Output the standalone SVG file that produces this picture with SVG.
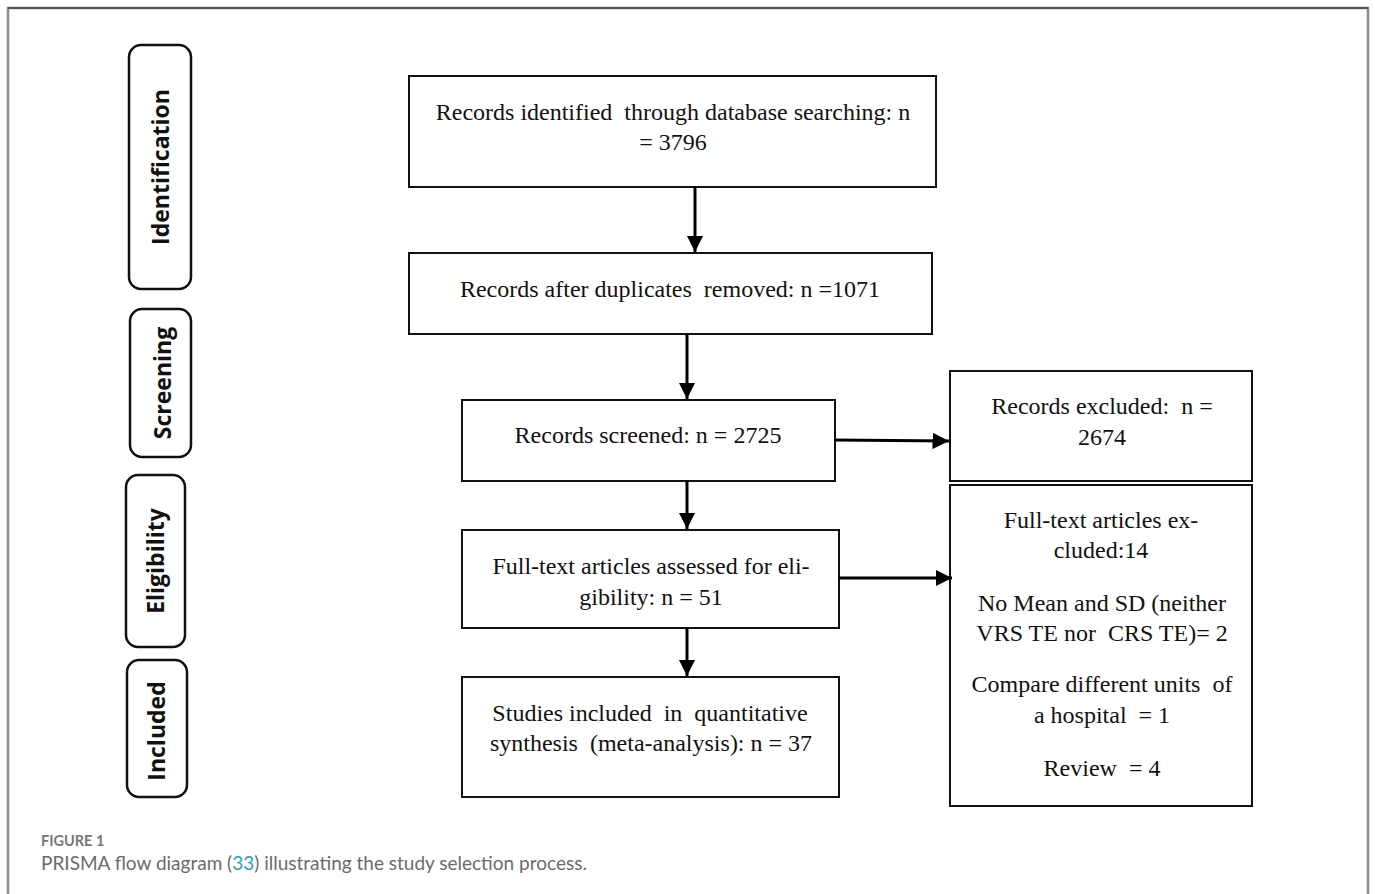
<svg xmlns="http://www.w3.org/2000/svg" width="1375" height="894" viewBox="0 0 1375 894">
<style>
.box{fill:#fff;stroke:#111;stroke-width:2}
.stage{fill:#fff;stroke:#111;stroke-width:2.5}
.t{font-family:"Liberation Serif","Times New Roman",serif;font-size:24px;fill:#111;text-anchor:middle;white-space:pre}
.s{font-family:"Open Sans","Liberation Sans",sans-serif;font-weight:bold;font-size:23px;fill:#111;text-anchor:middle}
.c{stroke:#000;stroke-width:3;fill:none}
</style>
<defs>
<marker id="ah" viewBox="0 0 10 10" refX="10" refY="5" markerWidth="5.5" markerHeight="5.5" markerUnits="strokeWidth" orient="auto">
<path d="M0,0 L10,5 L0,10 z" fill="#000"/>
</marker>
</defs>
<rect x="0" y="0" width="1375" height="894" fill="#fff"/>
<path d="M8,900 V8 H1368 V900" fill="none" stroke="#8a8a8a" stroke-width="2.5"/>
<line x1="8" y1="8" x2="1368" y2="8" stroke="#555" stroke-width="2"/>

<g id="stage-identification"><rect class="stage" x="129" y="45" width="62" height="244" rx="12"/><text class="s" transform="translate(169,167) rotate(-90)">Identification</text></g>
<g id="stage-screening"><rect class="stage" x="130" y="309" width="61" height="148" rx="12"/><text class="s" transform="translate(171,383) rotate(-90)">Screening</text></g>
<g id="stage-eligibility"><rect class="stage" x="126" y="475" width="59" height="172" rx="12"/><text class="s" transform="translate(164,561) rotate(-90)">Eligibility</text></g>
<g id="stage-included"><rect class="stage" x="127" y="660" width="60" height="137" rx="12"/><text class="s" transform="translate(165,731) rotate(-90)">Included</text></g>

<g id="n-identified" xml:space="preserve"><rect class="box" x="409" y="76" width="527" height="111"/><text class="t" x="673" y="120">Records identified  through database searching: n</text><text class="t" x="673" y="150">= 3796</text></g>
<g id="n-duplicates" xml:space="preserve"><rect class="box" x="409" y="253" width="523" height="81"/><text class="t" x="670" y="297">Records after duplicates  removed: n =1071</text></g>
<g id="n-screened" xml:space="preserve"><rect class="box" x="462" y="400" width="373" height="81"/><text class="t" x="648" y="443">Records screened: n = 2725</text></g>
<g id="n-excluded" xml:space="preserve"><rect class="box" x="950" y="371" width="302" height="110"/><text class="t" x="1102" y="414">Records excluded:  n =</text><text class="t" x="1102" y="445">2674</text></g>
<g id="n-fulltext" xml:space="preserve"><rect class="box" x="462" y="530" width="377" height="98"/><text class="t" x="651" y="574">Full-text articles assessed for eli-</text><text class="t" x="651" y="605">gibility: n = 51</text></g>
<g id="n-ftexcluded" xml:space="preserve"><rect class="box" x="950" y="485" width="302" height="321"/><text class="t" x="1101" y="528">Full-text articles ex-</text><text class="t" x="1101" y="558">cluded:14</text><text class="t" x="1102" y="611">No Mean and SD (neither</text><text class="t" x="1102" y="641">VRS TE nor  CRS TE)= 2</text><text class="t" x="1102" y="692">Compare different units  of</text><text class="t" x="1102" y="723">a hospital  = 1</text><text class="t" x="1102" y="776">Review  = 4</text></g>
<g id="n-included" xml:space="preserve"><rect class="box" x="462" y="677" width="377" height="120"/><text class="t" x="650" y="721">Studies included  in  quantitative</text><text class="t" x="651" y="751">synthesis  (meta-analysis): n = 37</text></g>

<g id="connectors">
<line class="c" x1="695" y1="187" x2="695" y2="252" marker-end="url(#ah)"/>
<line class="c" x1="687" y1="334" x2="687" y2="399" marker-end="url(#ah)"/>
<line class="c" x1="835" y1="440" x2="949" y2="441" marker-end="url(#ah)"/>
<line class="c" x1="687" y1="481" x2="687" y2="529" marker-end="url(#ah)"/>
<line class="c" x1="839" y1="578" x2="952" y2="578" marker-end="url(#ah)"/>
<line class="c" x1="687" y1="628" x2="687" y2="676" marker-end="url(#ah)"/>
</g>

<text x="41" y="846" font-family="Lato,'Liberation Sans',sans-serif" font-size="14.5" font-weight="bold" fill="#777">FIGURE 1</text>
<text x="41" y="870" font-family="Lato,'Liberation Sans',sans-serif" font-size="19" fill="#6b6b6b">PRISMA flow diagram (<tspan fill="#2aa3bd">33</tspan>) illustrating the study selection process.</text>
</svg>
